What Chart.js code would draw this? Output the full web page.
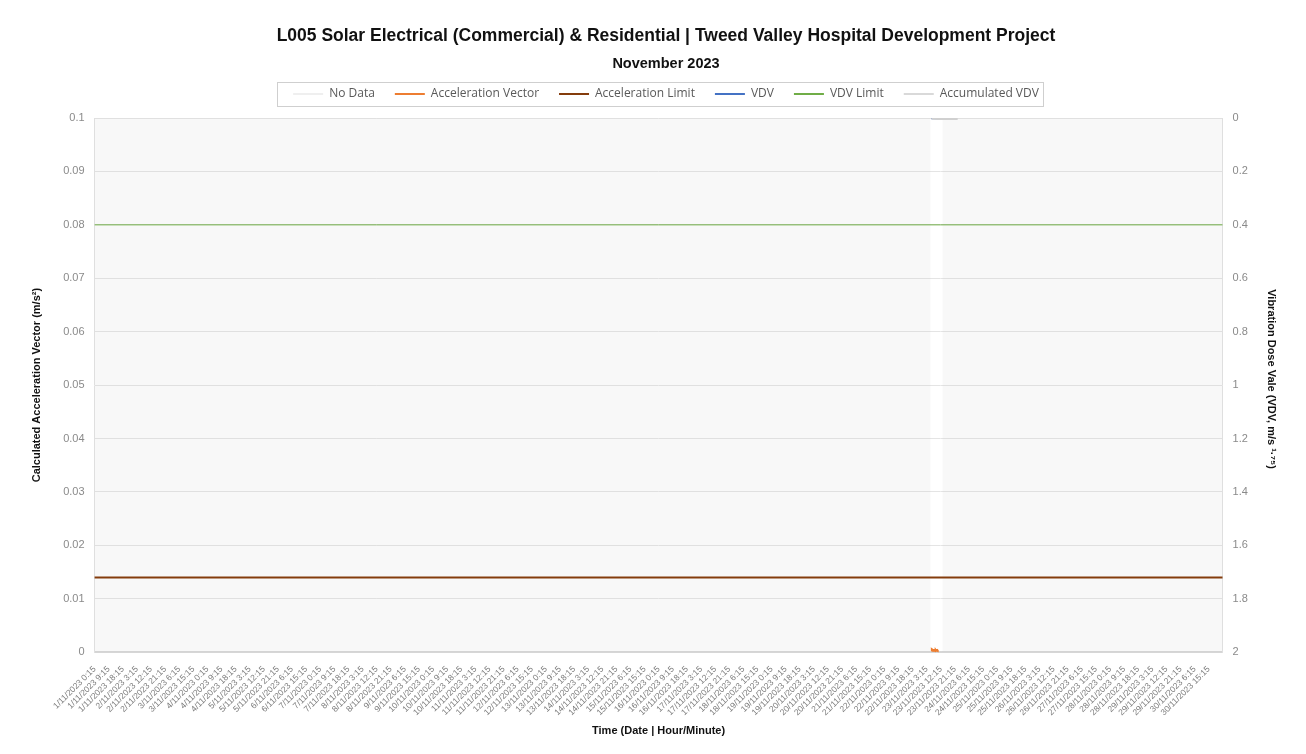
<!DOCTYPE html>
<html><head><meta charset="utf-8">
<script src="https://cdn.jsdelivr.net/npm/chart.js@4.4.0/dist/chart.umd.min.js"></script>
<style>html,body{margin:0;padding:0;background:#fff;}#wrap{width:1306px;height:754px;position:relative;}</style>
</head><body><div id="wrap"><canvas id="c"></canvas></div>
<script>
// ---------- texts ----------
const TITLE = 'L005 Solar Electrical (Commercial) & Residential | Tweed Valley Hospital Development Project';
const SUBTITLE = 'November 2023';
const SERIES_NAMES = ['No Data', 'Acceleration Vector', 'Acceleration Limit', 'VDV', 'VDV Limit', 'Accumulated VDV'];
const X_TITLE = 'Time (Date | Hour/Minute)';
const Y_TITLE = 'Calculated Acceleration Vector (m/s\u00B2)';
const Y2_TITLE = 'Vibration Dose Vale (VDV, m/s \u00B9\u00B7\u2077\u2075)    ';

// ---------- categories: 15-minute readings 1/11/2023 0:15 .. 1/12/2023 0:00 ----------
const START_UTC = Date.UTC(2023, 10, 1, 0, 0);
const STEP_MIN = 15;
const N_READINGS = 2880;
const TICK_EVERY = 36;          // a tick label every 9 hours
const categories = [];
for (let i = 1; i <= N_READINGS; i++) {
  const d = new Date(START_UTC + i * STEP_MIN * 60000);
  categories.push(d.getUTCDate() + '/' + (d.getUTCMonth() + 1) + '/' + d.getUTCFullYear() + ' ' +
    d.getUTCHours() + ':' + String(d.getUTCMinutes()).padStart(2, '0'));
}

// ---------- axis ranges ----------
const Y_MIN = 0, Y_MAX = 0.1, Y_STEP = 0.01;
const Y2_MIN = 0, Y2_MAX = 2, Y2_STEP = 0.2;

// ---------- values ----------
const accelLimit = 0.014;
const vdvLimit = 0.4;
const noDataRanges = [['1/11/2023 0:15', '23/11/2023 5:45'], ['23/11/2023 13:15', '1/12/2023 0:00']];
const accelStart = '23/11/2023 6:15';
const accelVector = [0.0003, 0.0004, 0.0003, 0.0003, 0.0004, 0.0003, 0.0003, 0.0004, 0.0003, 0.0003,
                     0.0003, 0.0004, 0.0003, 0.0003, 0.0003, 0.0004, 0.0003, 0.0003, 0.0003];
const vdvValues = [0.001, 0.001, 0.001, 0.001, 0.001, 0.001, 0.001, 0.001, 0.001, 0.001,
                   0.001, 0.001, 0.001, 0.001, 0.001, 0.001, 0.001, 0.001, 0.001];
const accumTimes = ['23/11/2023 6:15', '23/11/2023 8:00', '23/11/2023 10:45', '23/11/2023 14:00',
                    '23/11/2023 18:00', '23/11/2023 23:00'];
const accumValues = [0.002, 0.003, 0.004, 0.004, 0.004, 0.004];

// ---------- build points ----------
function seriesFrom(startLabel, vals) {
  const s = categories.indexOf(startLabel);
  return vals.map((v, k) => ({x: categories[s + k], y: v}));
}
const noDataPts = [];
noDataRanges.forEach((r, k) => {
  noDataPts.push({x: r[0], y: Y_MAX}, {x: r[1], y: Y_MAX});
  if (k < noDataRanges.length - 1) noDataPts.push({x: categories[categories.indexOf(r[1]) + 1], y: null});
});
const first = categories[0], last = categories[categories.length - 1];

const FONT = 'Liberation Sans, Arial, sans-serif';
const numFmt = v => String(Number(v.toFixed(3)));

const legendFrame = {
  id: 'legendFrame',
  beforeLayout(chart) {
    const lg = chart.legend;
    if (lg && !lg._patched) {
      const f = lg.fit;
      lg.fit = function () { f.call(this); this.height += 8; };
      lg._patched = true;
    }
  },
  afterDraw(chart) {
    const lg = chart.legend;
    if (!lg || !lg.legendHitBoxes.length) return;
    const hb = lg.legendHitBoxes;
    const l = Math.min(...hb.map(h => h.left)) - 16;
    const r = Math.max(...hb.map(h => h.left + h.width)) + 4;
    const cy = hb[0].top + hb[0].height / 2;
    const ctx = chart.ctx;
    ctx.save();
    ctx.strokeStyle = '#cfcfcf';
    ctx.lineWidth = 1;
    ctx.strokeRect(Math.round(l) + 0.5, Math.round(cy - 12) + 0.5, Math.round(r - l), 24);
    ctx.restore();
  }
};

new Chart(document.getElementById('c'), {
  type: 'line',
  data: {
    labels: categories,
    datasets: [
      {label: SERIES_NAMES[0], data: noDataPts, yAxisID: 'y', fill: 'origin', order: 10,
       backgroundColor: 'rgba(200,200,200,0.13)', borderWidth: 0, pointRadius: 0, legendColor: '#efefef'},
      {label: SERIES_NAMES[1], data: seriesFrom(accelStart, accelVector), yAxisID: 'y', order: 2,
       borderColor: '#ED7D31', backgroundColor: '#ED7D31', borderWidth: 2, pointRadius: 0, legendColor: '#ED7D31'},
      {label: SERIES_NAMES[2], data: [{x: first, y: accelLimit}, {x: last, y: accelLimit}], yAxisID: 'y', order: 3,
       borderColor: '#843C0C', backgroundColor: '#843C0C', borderWidth: 2, pointRadius: 0, legendColor: '#843C0C'},
      {label: SERIES_NAMES[3], data: seriesFrom(accelStart, vdvValues), yAxisID: 'y2', order: 5,
       borderColor: '#4472C4', backgroundColor: '#4472C4', borderWidth: 2, pointRadius: 0, legendColor: '#4472C4'},
      {label: SERIES_NAMES[4], data: [{x: first, y: vdvLimit}, {x: last, y: vdvLimit}], yAxisID: 'y2', order: 4,
       borderColor: '#70AD47', backgroundColor: '#70AD47', borderWidth: 1, pointRadius: 0, legendColor: '#70AD47'},
      {label: SERIES_NAMES[5], data: accumTimes.map((t, k) => ({x: t, y: accumValues[k]})), yAxisID: 'y2', order: 1,
       borderColor: '#D0D0D0', backgroundColor: '#D0D0D0', borderWidth: 2, pointRadius: 0, legendColor: '#D9D9D9'}
    ]
  },
  options: {
    responsive: true, maintainAspectRatio: false, animation: false,
    layout: {padding: {left: 30, right: 4, top: 19, bottom: 10}},
    plugins: {
      tooltip: {enabled: false},
      title: {display: true, text: TITLE, color: '#111', font: {family: FONT, size: 17.5, weight: 'bold', lineHeight: '21px'}, padding: {top: 7, bottom: 5}},
      subtitle: {display: true, text: SUBTITLE, color: '#111', font: {family: FONT, size: 14.5, weight: 'bold', lineHeight: '8px'}, padding: {top: 8, bottom: 0}},
      legend: {
        position: 'top',
        labels: {
          font: {family: 'Open Sans, sans-serif', size: 12}, color: '#595959',
          boxWidth: 30, boxHeight: 2, padding: 20,
          sort: (a, b) => a.datasetIndex - b.datasetIndex,
          generateLabels(chart) {
            const items = Chart.defaults.plugins.legend.labels.generateLabels(chart);
            items.forEach(it => {
              const ds = chart.data.datasets[it.datasetIndex];
              it.fillStyle = ds.legendColor; it.strokeStyle = ds.legendColor; it.lineWidth = 0;
            });
            return items;
          }
        }
      }
    },
    scales: {
      x: {
        type: 'category', offset: false,
        grid: {display: false},
        border: {display: true, color: '#d6d6d6', width: 2},
        afterBuildTicks(scale) { scale.ticks = scale.ticks.filter(t => t.value % TICK_EVERY === 0); },
        ticks: {autoSkip: false, minRotation: 45, maxRotation: 45, padding: 4, color: '#7a7a7a', font: {family: FONT, size: 8.5}},
        title: {display: true, text: X_TITLE, color: '#111', font: {family: FONT, size: 11, weight: 'bold'}, padding: {top: 3, bottom: 6}}
      },
      y: {
        position: 'left', min: Y_MIN, max: Y_MAX,
        ticks: {stepSize: Y_STEP, padding: 10, color: '#8a8a8a', font: {family: FONT, size: 11}, callback: numFmt},
        grid: {color: '#e4e4e4', drawTicks: false},
        border: {display: true, color: '#e0e0e0'},
        title: {display: true, text: Y_TITLE, color: '#111', font: {family: FONT, size: 11, weight: 'bold'}, padding: {top: 0, bottom: 10}}
      },
      y2: {
        position: 'right', reverse: true, min: Y2_MIN, max: Y2_MAX,
        ticks: {stepSize: Y2_STEP, padding: 10, color: '#8a8a8a', font: {family: FONT, size: 11}, callback: numFmt},
        grid: {display: false, drawTicks: false},
        border: {display: true, color: '#e0e0e0'},
        title: {display: true, text: Y2_TITLE, color: '#111', font: {family: FONT, size: 11, weight: 'bold'}, padding: {top: 24, bottom: 7}}
      }
    }
  },
  plugins: [legendFrame]
});
</script></body></html>
